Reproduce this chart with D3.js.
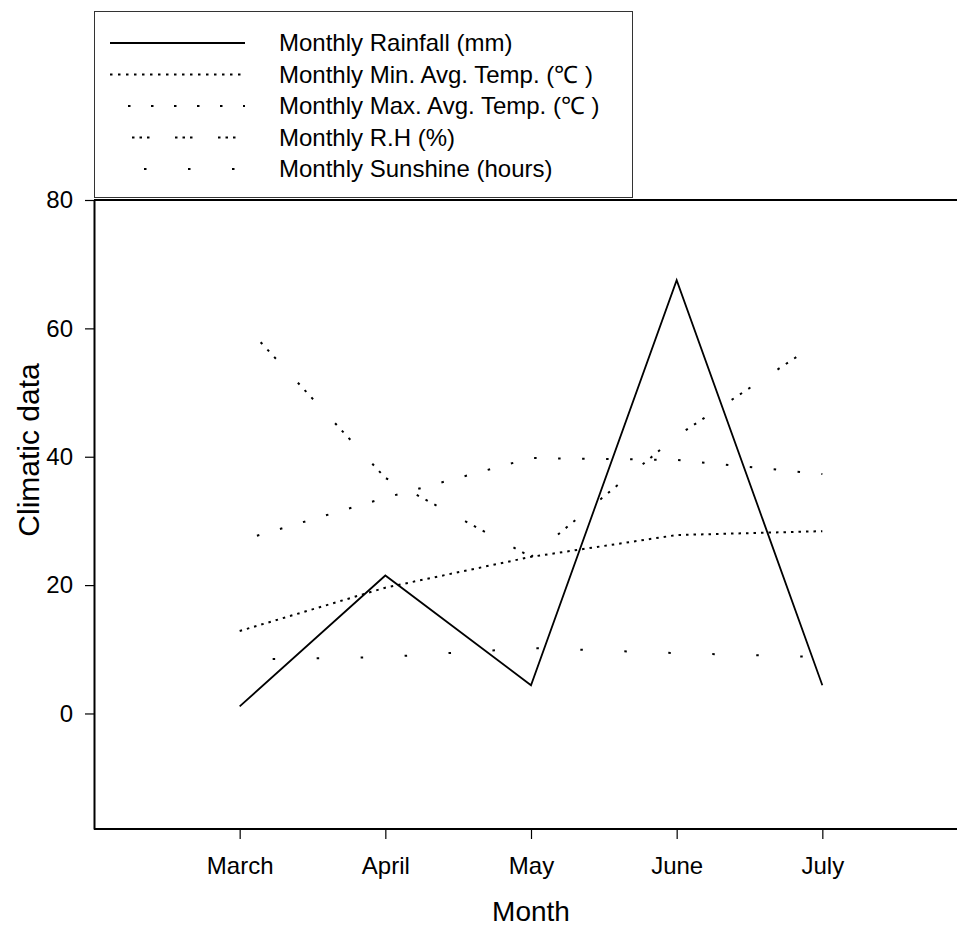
<!DOCTYPE html>
<html>
<head>
<meta charset="utf-8">
<script src="https://cdn.jsdelivr.net/npm/d3@7"></script>
<style>
  body { margin: 0; background: #fff; }
  svg { display: block; font-family: "Liberation Sans", Arial, sans-serif; }
</style>
</head>
<body>
<div id="chart"></div>
<script>
var months = ['March', 'April', 'May', 'June', 'July'];
var rainfall = [1.1, 21.5, 4.4, 67.5, 4.4];
var minTemp = [12.85, 19.6, 24.4, 27.8, 28.4];
var maxTemp = [26.9, 33.6, 39.8, 39.5, 37.3];
var humidity = [61.4, 36.7, 24.4, 43.2, 58.2];
var sunshine = [8.4, 8.8, 10.2, 9.4, 8.8];
var yTicks = [0, 20, 40, 60, 80];
var seriesNames = ['Monthly Rainfall (mm)', 'Monthly Min. Avg. Temp. (\u2103 )', 'Monthly Max. Avg. Temp. (\u2103 )', 'Monthly R.H (%)', 'Monthly Sunshine (hours)'];

(function() {
  var width = 957, height = 930;
  var left = 94, top = 200, bottom = 829, right = 968;
  var series, styles, svg, x, y, line, legend, rows, gx, gy;

  series = [rainfall, minTemp, maxTemp, humidity, sunshine];
  // [chart dash, chart offset, legend dash, legend offset, width]
  styles = [
    [null, 0, null, 0, 1.8],
    ['2.5,5', 0, '2.5,5.5', 0, 2],
    ['2.5,21.5', 6, '2.5,20.5', 5, 2],
    ['2.5,7.5,2.5,7.5,2.5,32.5', 24, '2.5,5,2.5,5,2.5,25.5', 21, 2],
    ['2.5,41.5', 11, '2.5,41.5', 10, 2]
  ];

  x = d3.scalePoint().domain(months).range([left, right]).padding(1);
  y = d3.scaleLinear().domain([-18, 80]).range([bottom, top]);

  svg = d3.select('#chart').append('svg').attr('width', width).attr('height', height);

  line = d3.line().x(function(d, i) {
    return x(months[i]);
  }).y(function(d) {
    return y(d);
  });

  svg.append('g').selectAll('path').data(series).enter().append('path')
    .attr('d', line)
    .attr('fill', 'none')
    .attr('stroke', '#000')
    .attr('stroke-width', function(d, i) { return styles[i][4]; })
    .attr('stroke-dasharray', function(d, i) { return styles[i][0]; })
    .attr('stroke-dashoffset', function(d, i) { return styles[i][1]; });

  // axes
  gy = svg.append('g').attr('transform', 'translate(' + left + ',0)')
    .call(d3.axisLeft(y).tickValues(yTicks).tickSize(9).tickSizeOuter(0).tickPadding(12));
  gx = svg.append('g').attr('transform', 'translate(0,' + bottom + ')')
    .call(d3.axisBottom(x).tickSize(10).tickSizeOuter(0).tickPadding(18));
  [gy, gx].forEach(function(g) {
    g.select('.domain').attr('stroke', '#000').attr('stroke-width', 2);
    g.selectAll('.tick line').attr('stroke', '#000').attr('stroke-width', 1.2);
    g.selectAll('.tick text').attr('fill', '#000').attr('font-size', 24)
      .attr('font-family', '"Liberation Sans", Arial, sans-serif');
  });
  gx.select('.domain').attr('d', 'M' + left + ',0H' + width);

  svg.append('line').attr('x1', left).attr('x2', width).attr('y1', top).attr('y2', top)
    .attr('stroke', '#000').attr('stroke-width', 2);

  svg.append('text').attr('x', x('May')).attr('y', 921).attr('text-anchor', 'middle')
    .attr('font-size', 28).text('Month');
  svg.append('text').attr('transform', 'translate(39,450)rotate(-90)').attr('text-anchor', 'middle')
    .attr('font-size', 30).text('Climatic data');

  // legend
  legend = svg.append('g');
  legend.append('rect').attr('x', 94.5).attr('y', 11.5).attr('width', 538).attr('height', 186)
    .attr('fill', '#fff').attr('stroke', '#333').attr('stroke-width', 1);
  rows = legend.selectAll('g.row').data(seriesNames).enter().append('g').attr('class', 'row')
    .attr('transform', function(d, i) { return 'translate(0,' + (43 + i * 31.5) + ')'; });
  rows.append('line').attr('x1', 110).attr('x2', 245).attr('y1', 0).attr('y2', 0)
    .attr('stroke', '#000')
    .attr('stroke-width', function(d, i) { return styles[i][4]; })
    .attr('stroke-dasharray', function(d, i) { return styles[i][2]; })
    .attr('stroke-dashoffset', function(d, i) { return styles[i][3]; });
  rows.append('text').attr('x', 279).attr('dy', '0.35em').attr('font-size', 24).text(function(d) { return d; });
}).call(this);
</script>
</body>
</html>
